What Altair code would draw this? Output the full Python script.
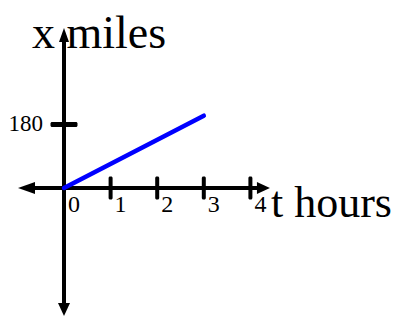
import altair as alt
import pandas as pd

# ---- data ----
tick_t = [1, 2, 3, 4]                 # tick marks on the t axis (hours)
label_t = [0, 1, 2, 3, 4]             # positions of the t labels
tick_labels = ["0", "1", "2", "3", "4"]
tick_miles = [180]                    # tick on the x (miles) axis
line_t = [0, 3]                       # blue line, hours
line_miles = [0, 205]                 # blue line, miles
t_extent = [-0.858, 4.29]             # horizontal axis ends (arrow bases)
miles_extent = [-345.8, 436.5]        # vertical axis ends
x_title = "x miles"
t_title = "t hours"

W, H = 386, 308
px_per_t = 46.6
px_per_mile = 0.3528
ox, oy = 56, 180
xs = alt.Scale(domain=[-ox / px_per_t, (W - ox) / px_per_t], nice=False, zero=False)
ys = alt.Scale(domain=[-(H - oy) / px_per_mile, oy / px_per_mile], nice=False, zero=False)

FONT = "Liberation Serif"

def X(f="t"):
    return alt.X(f"{f}:Q", scale=xs, axis=None)

def Y(f="m"):
    return alt.Y(f"{f}:Q", scale=ys, axis=None)

haxis = alt.Chart(pd.DataFrame({"t": [t_extent[0]], "t2": [t_extent[1]], "m": [0]})).mark_rule(
    color="black", strokeWidth=4).encode(x=X(), x2="t2:Q", y=Y())
vaxis = alt.Chart(pd.DataFrame({"t": [0], "m": [miles_extent[0]], "m2": [miles_extent[1]]})).mark_rule(
    color="black", strokeWidth=4).encode(x=X(), y=Y(), y2="m2:Q")

left_arrow = alt.Chart(pd.DataFrame({"t": [t_extent[0]], "m": [0]})).mark_point(
    shape="M-6,0L11,-6L11,6Z", filled=True, size=4, color="black", opacity=1).encode(x=X(), y=Y())
right_arrow = alt.Chart(pd.DataFrame({"t": [t_extent[1]], "m": [0]})).mark_point(
    shape="M6,0L-7,-6L-7,6Z", filled=True, size=4, color="black", opacity=1).encode(x=X(), y=Y())
top_arrow = alt.Chart(pd.DataFrame({"t": [0], "m": [miles_extent[1]]})).mark_point(
    shape="M0,-6L-5,8L5,8Z", filled=True, size=4, color="black", opacity=1).encode(x=X(), y=Y())
bottom_arrow = alt.Chart(pd.DataFrame({"t": [0], "m": [miles_extent[0]]})).mark_point(
    shape="M0,6L-6,-7L6,-7Z", filled=True, size=4, color="black", opacity=1).encode(x=X(), y=Y())

xticks = alt.Chart(pd.DataFrame({"t": tick_t, "m": [0] * len(tick_t)})).mark_tick(
    orient="vertical", size=23, thickness=4, color="black", opacity=1, cornerRadius=1.5).encode(x=X(), y=Y())
yticks = alt.Chart(pd.DataFrame({"t": [0] * len(tick_miles), "m": tick_miles})).mark_tick(
    orient="horizontal", size=27, thickness=5, color="black", opacity=1, cornerRadius=1.5).encode(x=X(), y=Y())

xlabels = alt.Chart(pd.DataFrame({"t": label_t, "m": [0] * len(label_t), "lab": tick_labels})).mark_text(
    font=FONT, fontSize=24, align="left", baseline="alphabetic", dx=4, dy=24, color="black").encode(
    x=X(), y=Y(), text="lab:N")
ylabels = alt.Chart(pd.DataFrame({"t": [0] * len(tick_miles), "m": tick_miles,
                                  "lab": [str(v) for v in tick_miles]})).mark_text(
    font=FONT, fontSize=23, align="right", baseline="alphabetic", dx=-21, dy=6.5, color="black").encode(
    x=X(), y=Y(), text="lab:N")

ytitle = alt.Chart(pd.DataFrame({"t": [0], "m": [miles_extent[1]], "lab": [x_title]})).mark_text(
    font=FONT, fontSize=46, align="left", baseline="alphabetic", dx=-32, dy=14, color="black").encode(
    x=X(), y=Y(), text="lab:N")
xtitle = alt.Chart(pd.DataFrame({"t": [t_extent[1]], "m": [0], "lab": [t_title]})).mark_text(
    font=FONT, fontSize=44, align="left", baseline="alphabetic", dx=7, dy=29, color="black").encode(
    x=X(), y=Y(), text="lab:N")

line = alt.Chart(pd.DataFrame({"t": line_t, "m": line_miles})).mark_line(
    color="#0000ff", strokeWidth=4.5, strokeCap="round").encode(x=X(), y=Y())

chart = alt.layer(
    haxis, vaxis, left_arrow, right_arrow, top_arrow, bottom_arrow,
    xticks, yticks, xlabels, ylabels, ytitle, xtitle, line
).properties(
    width=W, height=H, padding=0, autosize=alt.AutoSizeParams(type="none"), background="white"
).configure_view(stroke=None)

chart.save("out.html", embed_options={"renderer": "svg", "actions": False})
